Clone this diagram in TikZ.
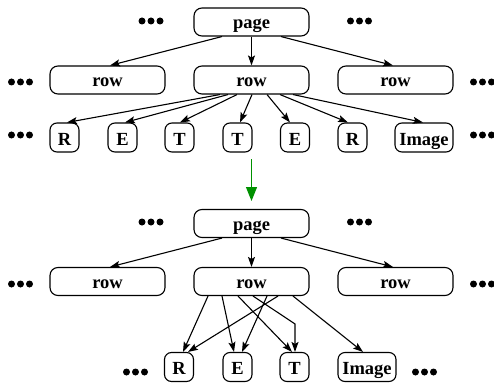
\documentclass[tikz,border=0pt]{standalone}
\usepackage{fontspec}
\setmainfont{Liberation Serif}
\usetikzlibrary{arrows.meta,calc}
\definecolor{flowgreen}{RGB}{0,145,0}
\begin{document}
\begin{tikzpicture}[x=1pt,y=-1pt,
  box/.style={draw,line width=1.1pt,rounded corners=8pt,minimum height=28pt,
    inner sep=0pt,font=\fontsize{18.5}{20}\selectfont\bfseries,
    text height=14pt,text depth=0pt},
  wide/.style={box,minimum width=115pt},
  leaf/.style={box,minimum width=29pt,minimum height=29pt,rounded corners=7pt,text height=15.5pt},
  leafw/.style={leaf,minimum width=58pt},
  link/.style={line width=1.1pt,-{Stealth[length=10pt,width=7pt,inset=2pt]}},
  pics/ellip/.style={code={\fill (-9,0) circle (3.5pt) (0,0) circle (3.5pt) (9,0) circle (3.5pt);}}
]
\useasboundingbox (0,0) rectangle (494,382);

% ---------- upper tree ----------
\node[wide] (pA) at (251.5,22) {page};
\node[wide] (rA1) at (107.5,80) {row};
\node[wide] (rA2) at (251.5,80) {row};
\node[wide] (rA3) at (395.5,80) {row};
\node[leaf]  (lA1) at (64.5,137.5) {R};
\node[leaf]  (lA2) at (122.5,137.5) {E};
\node[leaf]  (lA3) at (179.5,137.5) {T};
\node[leaf]  (lA4) at (237.5,137.5) {T};
\node[leaf]  (lA5) at (295,137.5) {E};
\node[leaf]  (lA6) at (352.5,137.5) {R};
\node[leafw] (lA7) at (424,137.5) {Image};

\pic at (151,21) {ellip};
\pic at (359.5,21) {ellip};
\pic at (20.5,82) {ellip};
\pic at (482.5,82) {ellip};
\pic at (20.5,135) {ellip};
\pic at (482.5,135) {ellip};

\draw[link] ($(pA.south)+(-29.5,0)$) -- ($(rA1.north)+(2.5,0)$);
\draw[link] (pA.south) -- (rA2.north);
\draw[link] ($(pA.south)+(29.5,0)$) -- ($(rA3.north)+(-2.5,0)$);

\draw[link] ($(rA2.south)+(-31.5,0)$) -- ($(lA1.north)+(2.5,0)$);
\draw[link] ($(rA2.south)+(-23.5,0)$) -- ($(lA2.north)+(2.5,0)$);
\draw[link] ($(rA2.south)+(-14.5,0)$) -- ($(lA3.north)+(0.5,0)$);
\draw[link] ($(rA2.south)+(0.5,0)$)   -- ($(lA4.north)+(2.5,0)$);
\draw[link] ($(rA2.south)+(15.5,0)$)  -- ($(lA5.north)+(-5,0)$);
\draw[link] ($(rA2.south)+(28.5,0)$)  -- ($(lA6.north)+(-4.5,0)$);
\draw[link] ($(rA2.south)+(41.5,0)$)  -- ($(lA7.north)+(-1,0)$);

% ---------- transformation ----------
\coordinate (gFrom) at (251.5,159);
\coordinate (gTo) at (251.5,201);
\draw[line width=1.1pt,flowgreen,-{Triangle[length=14pt,width=11pt]}] (gFrom) -- (gTo);

% ---------- lower tree ----------
\node[wide] (pB) at (251.5,223.5) {page};
\node[wide] (rB1) at (107.5,281.5) {row};
\node[wide] (rB2) at (251.5,281.5) {row};
\node[wide] (rB3) at (395.5,281.5) {row};
\node[leaf]  (lB1) at (179,367) {R};
\node[leaf]  (lB2) at (237.5,367) {E};
\node[leaf]  (lB3) at (294.5,367) {T};
\node[leafw] (lB4) at (367,367) {Image};

\pic at (151,222) {ellip};
\pic at (359.5,222) {ellip};
\pic at (20.5,284) {ellip};
\pic at (482.5,284) {ellip};
\pic at (135.5,372) {ellip};
\pic at (424.5,372) {ellip};

\draw[link] ($(pB.south)+(-29.5,0)$) -- ($(rB1.north)+(2.5,0)$);
\draw[link] (pB.south) -- (rB2.north);
\draw[link] ($(pB.south)+(29.5,0)$) -- ($(rB3.north)+(-2.5,0)$);

\draw[link] ($(rB2.south)+(-43.5,0)$) -- ($(lB1.north)+(4,0)$);
\draw[link] ($(rB2.south)+(-29.5,0)$) -- ($(lB2.north)+(-3.5,0)$);
\draw[link] ($(rB2.south)+(-13.5,0)$) -- ($(lB3.north)+(-2.5,0)$);
\draw[link] ($(rB2.south)+(1.5,0)$) -- ($(lB3.north)+(0.5,-28)$) -- ($(lB3.north)+(0.5,0)$);
\draw[link] ($(rB2.south)+(15.5,0)$) -- ($(lB2.north)+(4.5,0)$);
\draw[link] ($(rB2.south)+(26.5,0)$) -- ($(lB1.north)+(9,0)$);
\draw[link] ($(rB2.south)+(41.5,0)$) -- ($(lB4.north)+(-4,0)$);
\end{tikzpicture}
\end{document}
